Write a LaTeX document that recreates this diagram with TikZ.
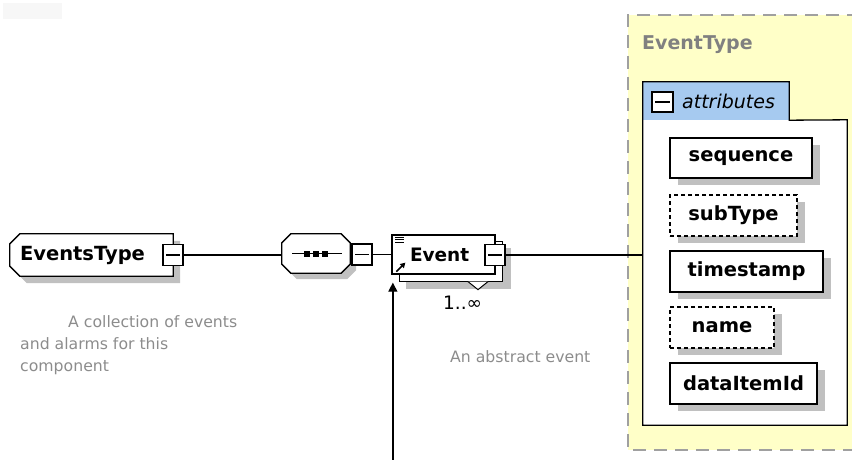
\documentclass[tikz,border=0pt]{standalone}
\usepackage{fontspec}
\setmainfont{DejaVu Sans}
\usetikzlibrary{arrows.meta,shadows,backgrounds}

\definecolor{shadowgray}{RGB}{192,192,192}
\definecolor{notegray}{RGB}{140,140,140}
\definecolor{labelgray}{RGB}{128,128,128}
\definecolor{yellowfill}{RGB}{255,255,200}
\definecolor{tabblue}{RGB}{166,202,240}
\definecolor{dashgray}{RGB}{160,160,160}

\tikzset{
  bx/.style={draw=black, line width=1.3pt, fill=white},
  lbl/.style={font=\fontsize{19.5}{22}\selectfont\bfseries},
  attr/.style={bx, lbl, minimum height=40pt, inner sep=0pt,
    general shadow={fill=shadowgray, shadow xshift=8pt, shadow yshift=-7pt}},
  optattr/.style={attr, dash pattern=on 4pt off 3pt},
  minusbox/.style={draw, line width=1.3pt, fill=white, minimum width=20pt,
    minimum height=21pt, inner sep=0pt,
    path picture={\draw[line width=1.3pt]
      ([xshift=3pt]path picture bounding box.west) --
      ([xshift=-3pt]path picture bounding box.east);}},
  conn/.style={line width=1.3pt},
  note/.style={text=notegray, font=\fontsize{15.7}{22}\selectfont, align=left, inner sep=0pt},
  dropshade/.style={preaction={fill=shadowgray, draw=none, transform canvas={shift={(#1)}}}},
}

\begin{document}
\begin{tikzpicture}[x=1pt,y=-1pt]
\useasboundingbox (0,0) rectangle (852,460);

% faint patch in the top-left corner
\fill[black!3] (3,3) rectangle (62,19);

% ---- EventType container -------------------------------------------
\fill[yellowfill] (628,15) rectangle (860,450);
\draw[dashgray, line width=2pt, dash pattern=on 13pt off 8pt]
  (860,15) -- (628,15) -- (628,450) -- (860,450);
\node[anchor=base west, text=labelgray, font=\fontsize{19}{22}\selectfont\bfseries, inner sep=0pt]
  (etypelbl) at (642,50) {EventType};

% attributes group: tab and body
\node[fill=tabblue, minimum width=146pt, minimum height=38pt, inner sep=0pt] (attab) at (716,101) {};
\node[fill=white, minimum width=204pt, minimum height=305pt, inner sep=0pt] (attbody) at (745,272.5) {};
\draw[line width=1.3pt] (attbody.south west) -- (attab.north west) -- (attab.north east)
  -- (attab.south east) -- (attbody.north east) -- (attbody.south east) -- cycle;
\node[minusbox, minimum width=21pt, minimum height=20pt] (tabminus) at (662.5,102) {};
\node[anchor=base west, font=\fontsize{19}{22}\selectfont\itshape, inner sep=0pt]
  (attlbl) at (682,108) {attributes};

% attribute boxes
\node[attr, minimum width=142pt] (aseq) at (741,158) {sequence};
\node[optattr, minimum width=127pt, minimum height=41pt] (asub) at (733.5,215.5) {subType};
\node[attr, minimum width=153pt, minimum height=41pt] (atime) at (746.5,271.5) {timestamp};
\node[optattr, minimum width=104pt, minimum height=41pt] (aname) at (722,327.5) {name};
\node[attr, minimum width=147pt, minimum height=41pt] (adata) at (743.5,383.5) {dataItemId};

% ---- EventsType element --------------------------------------------
\node[lbl, minimum width=163pt, minimum height=42pt, inner xsep=10pt, inner ysep=0pt,
  text width=143pt, align=left] (et) at (91.5,255) {EventsType};
\begin{scope}[on background layer]
\draw[bx, dropshade={7pt,-7pt}]
  ([xshift=10pt]et.north west) -- (et.north east) -- (et.south east)
  -- ([xshift=10pt]et.south west) -- ([yshift=10pt]et.south west)
  -- ([yshift=-10pt]et.north west) -- cycle;
\end{scope}
\node[minusbox] (etm) at (173,255) {};

% ---- sequence compositor -------------------------------------------
\node[minimum width=68pt, minimum height=39pt, inner sep=0pt] (cmp) at (316,253.5) {};
\draw[bx, dropshade={6pt,-6pt}]
  ([xshift=9pt]cmp.north west) -- ([xshift=-9pt]cmp.north east)
  -- ([yshift=-9pt]cmp.north east) -- ([yshift=9pt]cmp.south east)
  -- ([xshift=-9pt]cmp.south east) -- ([xshift=9pt]cmp.south west)
  -- ([yshift=9pt]cmp.south west) -- ([yshift=-9pt]cmp.north west) -- cycle;
\draw[line width=1.3pt] ([xshift=-24pt]cmp.center) -- ([xshift=26pt]cmp.center);
\foreach \dx in {-9,0,9}
  \fill ([shift={(\dx pt-3pt,-3pt)}]cmp.center) rectangle ([shift={(\dx pt+3pt,3pt)}]cmp.center);
\node[minusbox, minimum height=21pt] (cmpm) at (362,254.5) {};

% ---- Event element (repeated) --------------------------------------
\node[bx, font=\fontsize{18.5}{22}\selectfont\bfseries, minimum width=103pt, minimum height=39pt,
  inner xsep=18pt, inner ysep=0pt, text width=67pt, align=left] (ev) at (443.5,254.5) {Event};
\begin{scope}[on background layer]
  \fill[shadowgray] ([shift={(15pt,-14pt)}]ev.north west) rectangle ([shift={(15pt,-14pt)}]ev.south east);
  \draw[bx] ([shift={(8pt,-7pt)}]ev.north west) rectangle ([shift={(7pt,-7pt)}]ev.south east);
\end{scope}
\draw[line width=1pt, fill=white]
  ([shift={(24.5pt,-7pt)}]ev.south) -- ([shift={(34.5pt,-15pt)}]ev.south)
  -- ([shift={(44.5pt,-7pt)}]ev.south);
% element icons
\foreach \dy in {3,5.5,8}
  \draw[line width=0.9pt] ([shift={(4pt,-\dy pt)}]ev.north west) -- ([shift={(13pt,-\dy pt)}]ev.north west);
\draw[line width=1.6pt, -{Triangle[length=5pt,width=5.5pt]}]
  ([shift={(5pt,3pt)}]ev.south west) -- ([shift={(14pt,12pt)}]ev.south west);
\node[minusbox] (evm) at (495,255) {};
\node[anchor=base west, font=\fontsize{18.5}{20}\selectfont, inner sep=0pt] (card) at (443,309) {1..∞};

% ---- connectors ----------------------------------------------------
\draw[conn] (etm.east) -- (cmp.west |- etm.east);
\draw[conn] (cmp.east |- cmpm.west) -- (cmpm.west);
\draw[conn] (cmpm.east) -- (ev.west |- cmpm.east);
\draw[conn] (evm.east) -- (evm.east -| attbody.west);
\coordinate (tip) at ([shift={(1.5pt,-8pt)}]ev.south west);
\path (tip) ++(0,200) coordinate (below);
\draw[conn, -{Triangle[length=9pt,width=9pt]}] (below) -- (tip);

% ---- annotations ---------------------------------------------------
\node[note, anchor=north west] (etnote) at (20,315)
  {\hspace*{48pt}A collection of events\\and alarms for this\\component};
\node[note, anchor=base west] (evnote) at (450,362) {An abstract event};
\end{tikzpicture}
\end{document}
